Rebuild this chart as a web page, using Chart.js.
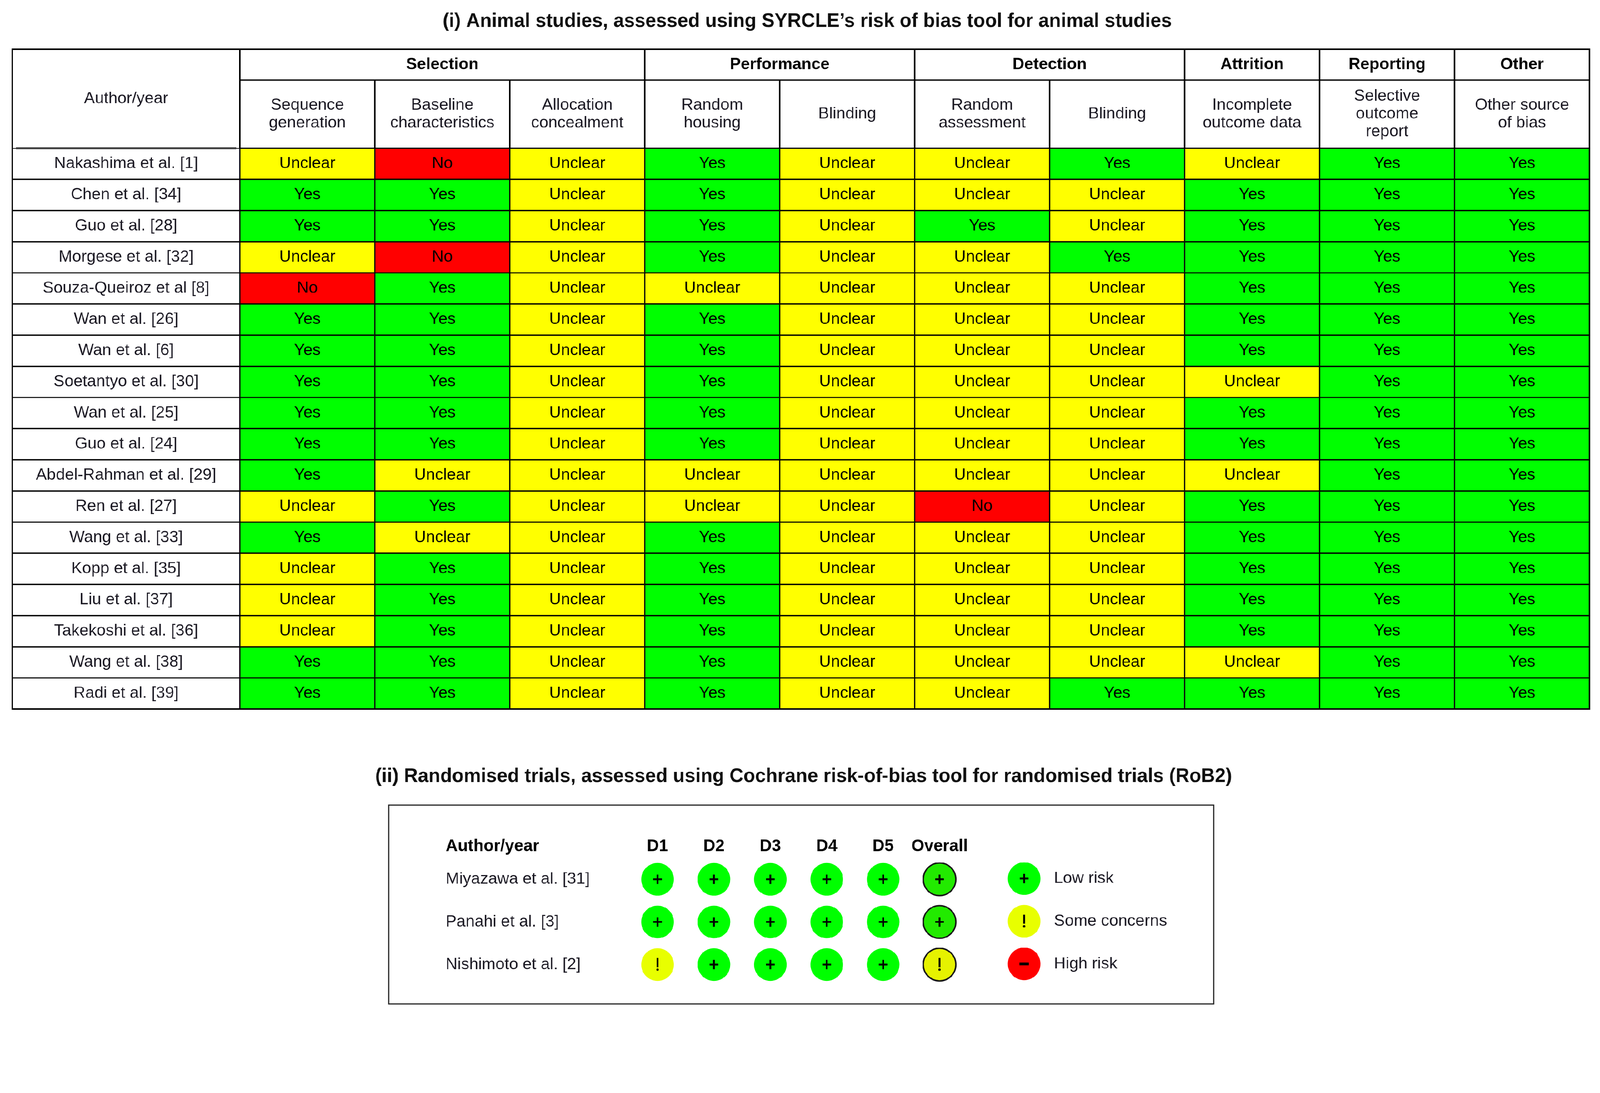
<!DOCTYPE html>
<html>
<head>
<meta charset="utf-8">
<script src="https://cdn.jsdelivr.net/npm/chart.js@4.4.1/dist/chart.umd.min.js"></script>
<style>
  html, body { margin: 0; padding: 0; background: #fff; overflow: hidden; }
  #wrap { position: relative; width: 4416px; height: 2798px; transform-origin: 0 0; }
  canvas { position: absolute; left: 0; }
  #animalChart { top: 0; }
  #trialChart { top: 2050px; }
</style>
</head>
<body>
<div id="wrap">
  <canvas id="animalChart" width="4416" height="2050"></canvas>
  <canvas id="trialChart" width="4416" height="748"></canvas>
</div>
<script>
// (i) animal studies, SYRCLE
const animalAuthors = [
    'Nakashima et al. [1]', 'Chen et al. [34]', 'Guo et al. [28]', 'Morgese et al. [32]',
    'Souza-Queiroz et al [8]', 'Wan et al. [26]', 'Wan et al. [6]', 'Soetantyo et al. [30]',
    'Wan et al. [25]', 'Guo et al. [24]', 'Abdel-Rahman et al. [29]', 'Ren et al. [27]',
    'Wang et al. [33]', 'Kopp et al. [35]', 'Liu et al. [37]', 'Takekoshi et al. [36]',
    'Wang et al. [38]', 'Radi et al. [39]'
];
const domainGroups = ['Selection', 'Performance', 'Detection', 'Attrition', 'Reporting', 'Other'];
const groupSpans = [3, 2, 2, 1, 1, 1];
const domainLabels = [
    ['Sequence', 'generation'], ['Baseline', 'characteristics'], ['Allocation', 'concealment'],
    ['Random', 'housing'], ['Blinding'], ['Random', 'assessment'], ['Blinding'],
    ['Incomplete', 'outcome data'], ['Selective', 'outcome', 'report'], ['Other source', 'of bias']
];
// one row per study, one entry per domain (same order as domainLabels)
const animalRatings = [
    ['Unclear', 'No', 'Unclear', 'Yes', 'Unclear', 'Unclear', 'Yes', 'Unclear', 'Yes', 'Yes'],
    ['Yes', 'Yes', 'Unclear', 'Yes', 'Unclear', 'Unclear', 'Unclear', 'Yes', 'Yes', 'Yes'],
    ['Yes', 'Yes', 'Unclear', 'Yes', 'Unclear', 'Yes', 'Unclear', 'Yes', 'Yes', 'Yes'],
    ['Unclear', 'No', 'Unclear', 'Yes', 'Unclear', 'Unclear', 'Yes', 'Yes', 'Yes', 'Yes'],
    ['No', 'Yes', 'Unclear', 'Unclear', 'Unclear', 'Unclear', 'Unclear', 'Yes', 'Yes', 'Yes'],
    ['Yes', 'Yes', 'Unclear', 'Yes', 'Unclear', 'Unclear', 'Unclear', 'Yes', 'Yes', 'Yes'],
    ['Yes', 'Yes', 'Unclear', 'Yes', 'Unclear', 'Unclear', 'Unclear', 'Yes', 'Yes', 'Yes'],
    ['Yes', 'Yes', 'Unclear', 'Yes', 'Unclear', 'Unclear', 'Unclear', 'Unclear', 'Yes', 'Yes'],
    ['Yes', 'Yes', 'Unclear', 'Yes', 'Unclear', 'Unclear', 'Unclear', 'Yes', 'Yes', 'Yes'],
    ['Yes', 'Yes', 'Unclear', 'Yes', 'Unclear', 'Unclear', 'Unclear', 'Yes', 'Yes', 'Yes'],
    ['Yes', 'Unclear', 'Unclear', 'Unclear', 'Unclear', 'Unclear', 'Unclear', 'Unclear', 'Yes', 'Yes'],
    ['Unclear', 'Yes', 'Unclear', 'Unclear', 'Unclear', 'No', 'Unclear', 'Yes', 'Yes', 'Yes'],
    ['Yes', 'Unclear', 'Unclear', 'Yes', 'Unclear', 'Unclear', 'Unclear', 'Yes', 'Yes', 'Yes'],
    ['Unclear', 'Yes', 'Unclear', 'Yes', 'Unclear', 'Unclear', 'Unclear', 'Yes', 'Yes', 'Yes'],
    ['Unclear', 'Yes', 'Unclear', 'Yes', 'Unclear', 'Unclear', 'Unclear', 'Yes', 'Yes', 'Yes'],
    ['Unclear', 'Yes', 'Unclear', 'Yes', 'Unclear', 'Unclear', 'Unclear', 'Yes', 'Yes', 'Yes'],
    ['Yes', 'Yes', 'Unclear', 'Yes', 'Unclear', 'Unclear', 'Unclear', 'Unclear', 'Yes', 'Yes'],
    ['Yes', 'Yes', 'Unclear', 'Yes', 'Unclear', 'Unclear', 'Yes', 'Yes', 'Yes', 'Yes']
];

// (ii) randomised trials, RoB2
const trialAuthors = ['Miyazawa et al. [31]', 'Panahi et al. [3]', 'Nishimoto et al. [2]'];
const robDomains = ['D1', 'D2', 'D3', 'D4', 'D5', 'Overall'];
const trialRatings = [
    ['Low', 'Low', 'Low', 'Low', 'Low', 'Low'],
    ['Low', 'Low', 'Low', 'Low', 'Low', 'Low'],
    ['Some', 'Low', 'Low', 'Low', 'Low', 'Some']
];
const legendKeys = ['Low', 'Some', 'High'];
const legendTexts = ['Low risk', 'Some concerns', 'High risk'];

const cellColors = { Yes: '#00FF00', Unclear: '#FFFF00', No: '#FF0000' };
const robColors = { Low: '#00FF00', Some: '#E8FF00', High: '#FF0000' };
const overallColors = { Low: '#22EA00', Some: '#E6F200', High: '#F00000' };

const FONT = '"Liberation Sans", Arial, sans-serif';
const AUTHOR_COL = 628 / 372.5; // author column width, in data-column units

// the page is laid out on a 4416 px wide sheet; fit it to the real viewport
document.getElementById('wrap').style.transform = `scale(${window.innerWidth / 4416})`;

function txt(ctx, s, x, y, size, bold, color, align) {
    ctx.font = `${bold ? 'bold ' : ''}${size}px ${FONT}`;
    ctx.fillStyle = color || '#000';
    ctx.textAlign = align || 'center';
    ctx.textBaseline = 'middle';
    ctx.fillText(s, x, y);
}

function line(ctx, x1, y1, x2, y2, w, color) {
    ctx.beginPath();
    ctx.lineWidth = w;
    ctx.strokeStyle = color || '#000';
    ctx.moveTo(x1, y1);
    ctx.lineTo(x2, y2);
    ctx.stroke();
}

// header rows, frame and cell labels for the SYRCLE table
const tablePlugin = {
    id: 'tableDecor',
    afterDatasetsDraw(chart) {
        const ctx = chart.ctx;
        // cell texts at the centre of each bar
        chart.data.datasets.forEach((ds, di) => {
            chart.getDatasetMeta(di).data.forEach((bar, ri) => {
                const cx = (bar.x + bar.base) / 2;
                if (di === 0) txt(ctx, animalAuthors[ri], cx, bar.y, 45, false, '#1c1a24');
                else txt(ctx, animalRatings[ri][di - 1], cx, bar.y, 45, false, '#000');
            });
        });
    },
    afterDraw(chart) {
        const ctx = chart.ctx;
        const { left, right, top, bottom } = chart.chartArea;
        const xs = k => chart.scales.x.getPixelForValue(AUTHOR_COL + k);
        const yTop = 136, yMid = 221;

        ctx.save();
        txt(ctx, '(i) Animal studies, assessed using SYRCLE\u2019s risk of bias tool for animal studies',
            2228, 59, 53, true, '#111');

        // header grid
        line(ctx, xs(0), yMid, right, yMid, 4, '#222');
        line(ctx, left + 10, top, xs(0) - 10, top, 6, '#444');
        line(ctx, xs(0), top, right, top, 4);
        let k = 0;
        groupSpans.forEach((span, g) => {
            txt(ctx, domainGroups[g], (xs(k) + xs(k + span)) / 2, (yTop + yMid) / 2, 45, true, '#000');
            line(ctx, xs(k), yTop, xs(k), top, 4);
            for (let j = 1; j < span; j++) line(ctx, xs(k + j), yMid, xs(k + j), top, 4);
            k += span;
        });
        domainLabels.forEach((lines, j) => {
            const cx = (xs(j) + xs(j + 1)) / 2;
            const cy = (yMid + top) / 2;
            const lh = 49;
            lines.forEach((s, i) => txt(ctx, s, cx, cy + (i - (lines.length - 1) / 2) * lh, 45, false, '#1c1a24'));
        });
        txt(ctx, 'Author/year', (left + xs(0)) / 2, (yTop + top) / 2, 45, false, '#1c1a24');

        // outer frame
        ctx.lineWidth = 4;
        ctx.strokeStyle = '#000';
        ctx.strokeRect(left, yTop, right - left, bottom - yTop);
        ctx.restore();
    }
};

const animalDatasets = [
    {
        label: 'Author/year',
        data: animalAuthors.map(() => AUTHOR_COL),
        backgroundColor: '#ffffff'
    },
    ...domainLabels.map((lbl, j) => ({
        label: lbl.join(' '),
        data: animalAuthors.map(() => 1),
        backgroundColor: animalRatings.map(r => cellColors[r[j]])
    }))
].map(ds => Object.assign(ds, {
    borderColor: '#000',
    borderWidth: 2,
    borderSkipped: false,
    barPercentage: 1,
    categoryPercentage: 1
}));

new Chart(document.getElementById('animalChart'), {
    type: 'bar',
    data: { labels: animalAuthors, datasets: animalDatasets },
    options: {
        indexAxis: 'y',
        responsive: false,
        animation: false,
        layout: { padding: { left: 34, right: 29, top: 409, bottom: 93 } },
        scales: {
            x: { type: 'linear', stacked: true, min: 0, max: AUTHOR_COL + domainLabels.length, display: false },
            y: { type: 'category', stacked: true, display: false }
        },
        plugins: { legend: { display: false }, tooltip: { enabled: false } }
    },
    plugins: [tablePlugin]
});

// symbol inside a traffic-light circle
function drawSymbol(ctx, kind, cx, cy) {
    if (kind === 'Low') {
        line(ctx, cx - 12, cy, cx + 12, cy, 5);
        line(ctx, cx, cy - 13, cx, cy + 13, 5);
    } else if (kind === 'Some') {
        line(ctx, cx, cy - 18, cx, cy + 7, 5);
        ctx.beginPath();
        ctx.fillStyle = '#000';
        ctx.arc(cx, cy + 14, 3.2, 0, Math.PI * 2);
        ctx.fill();
    } else {
        line(ctx, cx - 13, cy, cx + 13, cy, 8);
    }
}

function drawDot(ctx, kind, cx, cy) {
    ctx.beginPath();
    ctx.fillStyle = robColors[kind];
    ctx.arc(cx, cy, 45, 0, Math.PI * 2);
    ctx.fill();
}

const trialPlugin = {
    id: 'trialDecor',
    beforeDraw(chart) {
        const ctx = chart.ctx;
        ctx.save();
        txt(ctx, '(ii) Randomised trials, assessed using Cochrane risk-of-bias tool for randomised trials (RoB2)',
            2218, 93, 53, true, '#111');
        ctx.lineWidth = 3;
        ctx.strokeStyle = '#222';
        ctx.strokeRect(1073, 172, 2277, 549);
        ctx.restore();
    },
    afterDatasetsDraw(chart) {
        const ctx = chart.ctx;
        const xS = chart.scales.x, yS = chart.scales.y;
        ctx.save();
        txt(ctx, 'Author/year', 1230, 286, 46, true, '#000', 'left');
        robDomains.forEach((d, j) => txt(ctx, d, xS.getPixelForValue(j), 286, 46, true, '#000'));
        trialAuthors.forEach((a, i) => txt(ctx, a, 1230, yS.getPixelForValue(i), 45, false, '#1c1a24', 'left'));
        chart.data.datasets.forEach((ds, i) => {
            chart.getDatasetMeta(i).data.forEach((pt, j) => drawSymbol(ctx, trialRatings[i][j], pt.x, pt.y));
        });
        // legend
        const step = xS.getPixelForValue(1) - xS.getPixelForValue(0);
        const lx = xS.getPixelForValue(robDomains.length - 1) + 1.5 * step;
        legendKeys.forEach((key, i) => {
            const ly = yS.getPixelForValue(i) - 2;
            drawDot(ctx, key, lx, ly);
            drawSymbol(ctx, key, lx, ly);
            txt(ctx, legendTexts[i], lx + 82, ly, 45, false, '#1c1a24', 'left');
        });
        ctx.restore();
    }
};

const last = robDomains.length - 1;
new Chart(document.getElementById('trialChart'), {
    type: 'scatter',
    data: {
        datasets: trialAuthors.map((author, i) => ({
            label: author,
            data: robDomains.map(d => ({ x: d, y: author })),
            pointRadius: 45,
            pointHoverRadius: 45,
            pointBackgroundColor: trialRatings[i].map((r, j) => j === last ? overallColors[r] : robColors[r]),
            pointBorderColor: trialRatings[i].map((r, j) => j === last ? '#1a1a1a' : robColors[r]),
            pointBorderWidth: trialRatings[i].map((r, j) => j === last ? 4 : 0)
        }))
    },
    options: {
        responsive: false,
        animation: false,
        layout: { padding: { left: 1737, right: 1745, top: 318, bottom: 77 } },
        scales: {
            x: { type: 'category', labels: robDomains, offset: true, display: false },
            y: { type: 'category', labels: trialAuthors, offset: true, display: false }
        },
        plugins: { legend: { display: false }, tooltip: { enabled: false } }
    },
    plugins: [trialPlugin]
});
</script>
</body>
</html>
